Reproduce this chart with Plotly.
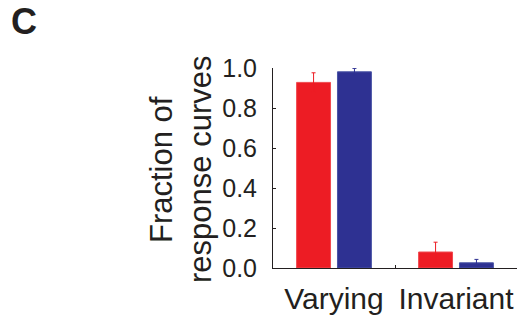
import plotly.graph_objects as go

categories = ["Varying", "Invariant"]
red_values = [0.928, 0.080]
red_errors = [0.048, 0.049]
blue_values = [0.981, 0.026]
blue_errors = [0.017, 0.017]
y_ticks = [0.0, 0.2, 0.4, 0.6, 0.8, 1.0]
y_ticklabels = ["0.0", "0.2", "0.4", "0.6", "0.8", "1.0"]

RED = "#ED1C24"
BLUE = "#2E3192"
AX = "#231F20"
FONT = "Liberation Sans, Arial, sans-serif"

fig = go.Figure()
fig.add_trace(go.Bar(
    x=categories, y=red_values,
    marker=dict(color=RED, line=dict(color="#F04A50", width=1)),
    error_y=dict(type="data", array=red_errors, visible=True, color=RED, thickness=1, width=2),
    showlegend=False,
))
fig.add_trace(go.Bar(
    x=categories, y=blue_values,
    marker=dict(color=BLUE, line=dict(color="#4A55A6", width=1)),
    error_y=dict(type="data", array=blue_errors, visible=True, color=BLUE, thickness=1, width=2),
    showlegend=False,
))

fig.update_layout(
    width=526, height=324,
    margin=dict(l=273, r=9, t=68, b=48),
    paper_bgcolor="white", plot_bgcolor="white",
    barmode="group", bargap=0.33, bargroupgap=0.17,
    font=dict(family=FONT, color=AX),
    xaxis=dict(
        range=[-0.5, 1.5], showline=True, linecolor=AX, linewidth=1,
        showgrid=False, zeroline=False,
        tickmode="array", tickvals=[0, 1], ticktext=categories,
        ticks="", tickfont=dict(size=30, family=FONT, color=AX),
        ticklabelstandoff=4,
    ),
    xaxis2=dict(
        overlaying="x", range=[-0.5, 1.5], showline=False, showgrid=False,
        zeroline=False, tickmode="array", tickvals=[0.5, 1.5], ticks="inside",
        ticklen=3, tickcolor=AX, tickwidth=1, showticklabels=False,
        anchor="y", side="bottom",
    ),
    yaxis=dict(
        range=[0, 1.0], showline=True, linecolor=AX, linewidth=1,
        showgrid=False, zeroline=False,
        tickmode="array", tickvals=y_ticks, ticktext=y_ticklabels,
        ticks="inside", ticklen=3, tickcolor=AX, tickwidth=1,
        tickfont=dict(size=25, family=FONT, color=AX),
        ticklabelstandoff=10,
    ),
)

fig.add_trace(go.Scatter(x=[0.5], y=[0], xaxis="x2", mode="markers",
                         marker=dict(opacity=0), showlegend=False, hoverinfo="skip"))

fig.add_annotation(text="Fraction of", textangle=-90, xref="paper", yref="paper",
                   x=(161 - 273) / 244, y=0.49, xanchor="center", yanchor="middle",
                   showarrow=False, font=dict(size=31, family=FONT, color=AX))
fig.add_annotation(text="response curves", textangle=-90, xref="paper", yref="paper",
                   x=(200 - 273) / 244, y=0.49, xanchor="center", yanchor="middle",
                   showarrow=False, font=dict(size=31, family=FONT, color=AX))
fig.add_annotation(text="<b>C</b>", xref="paper", yref="paper",
                   x=(24 - 273) / 244, y=(276 - 20) / 208,
                   xanchor="center", yanchor="middle",
                   showarrow=False, font=dict(size=36, family=FONT, color=AX))

fig.write_html("out.html")
